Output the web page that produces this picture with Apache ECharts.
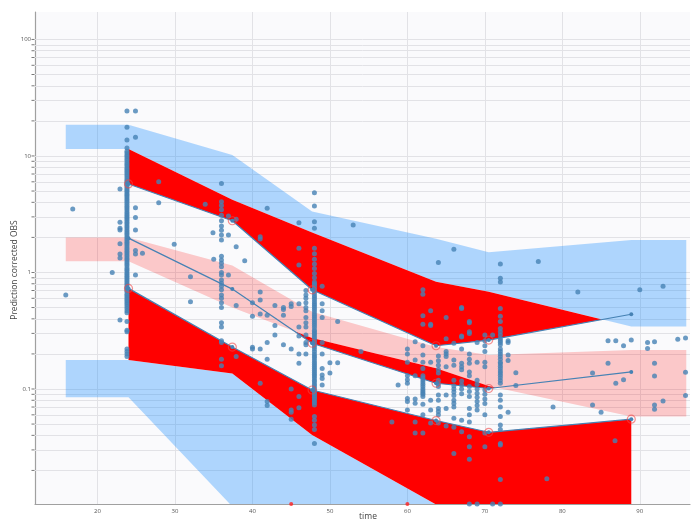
<!DOCTYPE html>
<html><head><meta charset="utf-8">
<script src="https://cdn.jsdelivr.net/npm/echarts@6/dist/echarts.min.js"></script>
<style>html,body{margin:0;padding:0;background:#fff}#main{width:693px;height:522px}</style>
</head><body><div id="main"></div>
<script>
// ---------- axis ranges & ticks ----------
const xRange = [11.93, 96.48];
const yRange = [0.0103, 172];
const xTickValues = [20, 30, 40, 50, 60, 70, 80, 90];
const yMajorTicks = [0.1, 1, 10, 100];
const yMinorTicks = [0.02,0.03,0.04,0.05,0.06,0.07,0.08,0.09,0.2,0.3,0.4,0.5,0.6,0.7,0.8,0.9,2,3,4,5,6,7,8,9,20,30,40,50,60,70,80,90];

// ---------- VPC summary (bins) ----------
const binTimes  = [24.0, 37.4, 47.7, 63.7, 70.5, 88.9];
const bandTimes = [15.9, 24.0, 37.4, 47.7, 63.7, 70.5, 88.9, 96.0];
const upperPIhi  = [18.5, 18.5, 10.2, 3.33, 1.95, 1.49, 1.90, 1.90];
const upperPIlo  = [11.5, 11.5, 4.2, 2.2, 0.834, 0.684, 0.343, 0.343];
const medianPIhi = [2.0, 2.0, 1.15, 0.46, 0.229, 0.196, 0.216, 0.216];
const medianPIlo = [1.25, 1.25, 0.5, 0.274, 0.151, 0.106, 0.058, 0.058];
const lowerPIhi  = [0.177, 0.177, 0.136, 0.0403, 0.0102, 0.007, 0.006, 0.006];
const lowerPIlo  = [0.085, 0.085, 0.0098, 0.003, 0.001, 0.001, 0.001, 0.001];
const empUpper  = [5.75, 2.78, 0.71, 0.235, 0.263, 0.438];
const empMedian = [1.97, 0.72, 0.247, 0.112, 0.101, 0.14];
const empLower  = [0.73, 0.229, 0.098, 0.0536, 0.0425, 0.0551];

// ---------- observations [time, value] ----------
const obsEarly = [[15.9,0.64],[16.8,3.5],[21.9,1.0],[22.9,5.2],[22.9,2.7],[22.9,2.4],[22.9,2.31],[22.9,1.76],[22.9,1.44],[22.9,1.33],[22.9,0.39],
 [23.8,24.3],[23.8,17.6],[23.8,13.7],[23.8,11.7],[23.8,11.0],[23.8,10.6],[23.8,10.2],[23.8,9.9],[23.8,9.5],[23.8,9.2],[23.8,8.8],[23.8,8.5],[23.8,8.2],[23.8,7.9],[23.8,7.65],[23.8,7.4],[23.8,7.15],[23.8,6.9],[23.8,6.65],[23.8,6.4],[23.8,6.2],[23.8,6.0],[23.8,5.8],[23.8,5.6],[23.8,5.4],[23.8,5.2],[23.8,5.05],[23.8,4.9],[23.8,4.75],[23.8,4.6],[23.8,4.45],[23.8,4.3],[23.8,4.15],[23.8,4.0],[23.8,3.85],[23.8,3.7],[23.8,3.57],[23.8,3.45],[23.8,3.32],[23.8,3.2],[23.8,3.1],[23.8,3.0],[23.8,2.9],[23.8,2.8],[23.8,2.7],[23.8,2.6],[23.8,2.5],[23.8,2.42],[23.8,2.33],[23.8,2.25],[23.8,2.17],[23.8,2.1],[23.8,2.02],[23.8,1.95],[23.8,1.88],[23.8,1.82],[23.8,1.76],[23.8,1.7],[23.8,1.64],[23.8,1.58],[23.8,1.52],[23.8,1.47],[23.8,1.42],[23.8,1.37],[23.8,1.32],[23.8,1.28],[23.8,1.23],[23.8,1.19],[23.8,1.15],[23.8,1.1],[23.8,1.06],[23.8,1.03],[23.8,0.99],[23.8,0.96],[23.8,0.93],[23.8,0.9],[23.8,0.87],[23.8,0.84],[23.8,0.81],[23.8,0.78],[23.8,0.75],[23.8,0.73],[23.8,0.7],[23.8,0.68],[23.8,0.65],[23.8,0.63],[23.8,0.61],[23.8,0.59],[23.8,0.57],[23.8,0.55],[23.8,0.53],[23.8,0.51],[23.8,0.49],[23.8,0.47],[23.8,0.45],[23.8,0.38],[23.8,0.32],[23.8,0.31],[23.8,0.22],[23.8,0.21],[23.8,0.2],[23.8,0.19],
 [24.9,24.3],[24.9,14.5],[24.9,3.6],[24.9,2.97],[24.9,2.31],[24.9,1.54],[24.9,1.44],[24.9,0.95],
 [25.8,1.46],[27.9,6.0],[27.9,3.97],[29.9,1.75]];
const obsMid = [[32.0,0.92],[32.0,0.56],[33.9,3.85],[34.9,2.19],[35.0,1.3],
 [36.0,5.8],[36.0,4.05],[36.0,3.75],[36.0,3.45],[36.0,3.1],[36.0,2.78],[36.0,2.5],[36.0,2.3],[36.0,2.1],[36.0,1.9],[36.0,1.38],[36.0,1.28],[36.0,1.2],[36.0,1.12],[36.0,1.0],[36.0,0.95],[36.0,0.86],[36.0,0.81],[36.0,0.76],[36.0,0.71],[36.0,0.64],[36.0,0.6],[36.0,0.55],[36.0,0.5],[36.0,0.37],[36.0,0.34],[36.0,0.26],[36.0,0.25],[36.0,0.18],[36.0,0.158],
 [36.9,3.05],[36.9,2.1],[36.9,0.95],[37.9,2.86],[37.9,1.66],[37.9,0.52],[37.9,0.19],[39.0,1.26],
 [40.0,0.55],[40.0,0.42],[40.0,0.228],[40.0,0.22],
 [41.0,2.03],[41.0,1.94],[41.0,0.68],[41.0,0.58],[41.0,0.44],[41.0,0.22],[41.0,0.112],
 [41.9,3.55],[41.9,0.43],[41.9,0.25],[41.9,0.18],[41.9,0.078],[41.9,0.072],
 [42.9,0.52],[42.9,0.35],[42.9,0.29],[44.0,0.5],[44.0,0.48],[44.0,0.43],[44.0,0.24],
 [45.0,0.54],[45.0,0.51],[45.0,0.22],[45.0,0.1],[45.0,0.066],[45.0,0.063],[45.0,0.055],
 [46.0,2.67],[46.0,1.61],[46.0,1.16],[46.0,0.54],[46.0,0.34],[46.0,0.285],[46.0,0.2],[46.0,0.166],[46.0,0.086],[46.0,0.069]];
const obs48 = [[46.9,0.7],[46.9,0.64],[46.9,0.6],[46.9,0.55],[46.9,0.5],[46.9,0.47],[46.9,0.41],[46.9,0.37],[46.9,0.34],[46.9,0.29],[46.9,0.25],[46.9,0.24],[46.9,0.2],
 [48,4.84],[48,3.72],[48,2.73],[48,2.4],[48,1.61],[48,1.45],[48,1.3],[48,1.18],[48,1.08],[48,0.98],[48,0.9],[48,0.83],[48,0.8],[48,0.78],[48,0.75],[48,0.72],[48,0.69],[48,0.66],[48,0.63],[48,0.61],[48,0.585],[48,0.56],[48,0.54],[48,0.52],[48,0.5],[48,0.48],[48,0.46],[48,0.44],[48,0.425],[48,0.41],[48,0.395],[48,0.38],[48,0.365],[48,0.35],[48,0.335],[48,0.32],[48,0.31],[48,0.3],[48,0.29],[48,0.28],[48,0.27],[48,0.26],[48,0.25],[48,0.24],[48,0.23],[48,0.22],[48,0.21],[48,0.2],[48,0.192],[48,0.185],[48,0.177],[48,0.17],[48,0.163],[48,0.157],[48,0.151],[48,0.145],[48,0.139],[48,0.134],[48,0.129],[48,0.124],[48,0.119],[48,0.115],[48,0.11],[48,0.106],[48,0.102],[48,0.098],[48,0.094],[48,0.091],[48,0.088],[48,0.085],[48,0.082],[48,0.079],[48,0.076],[48,0.073],[48,0.058],[48,0.054],[48,0.049],[48,0.045],[48,0.034],
 [49,0.76],[49,0.54],[49,0.47],[49,0.41],[49,0.25],[49,0.2],[49,0.15],[49,0.132],[49,0.123],[49,0.108],
 [50,0.168],[50,0.137],[51,0.38],[51,0.168],[53,2.56],[54,0.21],[58,0.052],[58.8,0.108]];
const obsLate = [[60,0.22],[60,0.2],[60,0.17],[60,0.13],[60,0.12],[60,0.112],[60,0.083],[60,0.078],[60,0.066],
 [61,0.254],[61,0.177],[61,0.13],[61,0.082],[61,0.0755],[61,0.052],[61,0.042],
 [62,0.71],[62,0.65],[62,0.426],[62,0.36],[62,0.235],[62,0.196],[62,0.17],[62,0.15],[62,0.13],[62,0.125],[62,0.12],[62,0.115],[62,0.11],[62,0.105],[62,0.1],[62,0.096],[62,0.093],[62,0.09],[62,0.086],[62,0.074],[62,0.06],[62,0.042],
 [63,0.47],[63,0.36],[63,0.35],[63,0.17],[63,0.08],[63,0.066],[63,0.051],
 [64,1.22],[64,0.192],[64,0.175],[64,0.16],[64,0.147],[64,0.137],[64,0.119],[64,0.111],[64,0.105],[64,0.089],[64,0.08],[64,0.068],[64,0.064],[64,0.06],[64,0.051],
 [65,0.41],[65,0.27],[65,0.21],[65,0.2],[65,0.19],[65,0.155],[65,0.089],[65,0.068],[65,0.048],
 [66,1.58],[66,0.247],[66,0.177],[66,0.16],[66,0.119],[66,0.106],[66,0.1],[66,0.094],[66,0.088],[66,0.08],[66,0.075],[66,0.07],[66,0.056],[66,0.047],[66,0.028],
 [67,0.5],[67,0.49],[67,0.285],[67,0.28],[67,0.22],[67,0.166],[67,0.155],[67,0.146],[67,0.117],[67,0.108],[67,0.1],[67,0.091],[67,0.054],[67,0.043],
 [68,0.38],[68,0.37],[68,0.31],[68,0.3],[68,0.2],[68,0.18],[68,0.166],[68,0.14],[68,0.13],[68,0.105],[68,0.095],[68,0.086],[68,0.068],[68,0.06],[68,0.052],[68,0.039],[68,0.032],[68,0.025],
 [69,0.25],[69,0.17],[69,0.119],[69,0.11],[69,0.1],[69,0.092],[69,0.085],[69,0.078],[69,0.072],[69,0.066],
 [70,0.29],[70,0.26],[70,0.235],[70,0.21],[70,0.17],[70,0.155],[70,0.098],[70,0.09],[70,0.082],[70,0.075],[70,0.06],[70,0.042],[70,0.032],
 [71,0.29],
 [72,1.18],[72,0.89],[72,0.83],[72,0.49],[72,0.42],[72,0.38],[72,0.33],[72,0.31],[72,0.29],[72,0.27],[72,0.26],[72,0.25],[72,0.24],[72,0.22],[72,0.21],[72,0.2],[72,0.19],[72,0.18],[72,0.17],[72,0.165],[72,0.157],[72,0.15],[72,0.143],[72,0.137],[72,0.131],[72,0.125],[72,0.118],[72,0.112],[72,0.089],[72,0.08],[72,0.07],[72,0.058],[72,0.049],[72,0.045],[72,0.034],[72,0.033],[72,0.0167],
 [73,0.26],[73,0.25],[73,0.196],[73,0.176],[73,0.063],[74,0.138],[74,0.107]];
const obsEnd = [[76.9,1.24],[78,0.017],[78.8,0.07],[82,0.68],[83.9,0.137],[83.9,0.073],[85,0.063],[85.9,0.26],[85.9,0.166],[86.8,0.036],[86.9,0.26],[86.9,0.112],[87.9,0.235],[87.9,0.12],[88.9,0.263],
 [90,0.71],[91,0.25],[91,0.223],[91.9,0.254],[91.9,0.166],[91.9,0.129],[91.9,0.073],[91.9,0.067],[93,0.76],[93,0.079],[94.9,0.267],[95.9,0.274],[95.9,0.139],[95.9,0.088]];
const obsAtLimitBlue = [[68,0.0103],[69,0.0103],[71,0.0103],[72,0.0103]];
const obsAtLimitRed = [[45,0.0103],[60,0.0103]];

// ---------- helpers ----------
const lg = Math.log10;
function bandPolygon(times, hi, lo) {
  const up = times.map((t, i) => [t, hi[i]]);
  const dn = times.map((t, i) => [t, lo[i]]).reverse();
  return up.concat(dn);
}
// region where `top` lies above `bottom` (in log space), straight segments on screen
function exceedRegions(times, top, bottom) {
  const regions = []; let cur = null;
  const d = times.map((t, i) => lg(top[i]) - lg(bottom[i]));
  for (let i = 0; i < times.length; i++) {
    if (i > 0 && (d[i - 1] > 0) !== (d[i] > 0)) {
      const f = d[i - 1] / (d[i - 1] - d[i]);
      const t = times[i - 1] + f * (times[i] - times[i - 1]);
      const v = Math.pow(10, lg(top[i - 1]) + f * (lg(top[i]) - lg(top[i - 1])));
      if (cur) { cur.up.push([t, v]); regions.push(cur); cur = null; }
      else { cur = { up: [[t, v]], dn: [] }; }
    }
    if (d[i] > 0) {
      if (!cur) cur = { up: [], dn: [] };
      cur.up.push([times[i], top[i]]);
      cur.dn.push([times[i], bottom[i]]);
    }
  }
  if (cur) regions.push(cur);
  return regions.map(r => r.up.concat(r.dn.slice().reverse()));
}
const bin = a => a.slice(1, 7);
const redPolys = [].concat(
  exceedRegions(binTimes, bin(upperPIlo), empUpper),
  exceedRegions(binTimes, empUpper, bin(upperPIhi)),
  exceedRegions(binTimes, bin(medianPIlo), empMedian),
  exceedRegions(binTimes, empMedian, bin(medianPIhi)),
  exceedRegions(binTimes, bin(lowerPIlo), empLower),
  exceedRegions(binTimes, empLower, bin(lowerPIhi))
);
function outliers(emp, hi, lo) {
  const h = bin(hi), l = bin(lo);
  return binTimes.map((t, i) => [t, emp[i]]).filter((p, i) => p[1] > h[i] || p[1] < l[i]);
}
const outlierPts = [].concat(outliers(empUpper, upperPIhi, upperPIlo), outliers(empMedian, medianPIhi, medianPIlo), outliers(empLower, lowerPIhi, lowerPIlo));

function polygonSeries(polys, fill, z) {
  return {
    type: 'custom', z: z, silent: true, clip: true,
    data: polys.map((p, i) => [xTickValues[0], 1, i]),
    encode: { x: 0, y: 1 },
    renderItem: function (params, api) {
      const pts = polys[params.dataIndex].map(p => api.coord(p));
      return { type: 'polygon', shape: { points: pts }, style: { fill: fill, stroke: null } };
    }
  };
}

const steel = '#4682b4';
const font = '"Open Sans", "Liberation Sans", sans-serif';
const chart = echarts.init(document.getElementById('main'));
const allYTicks = yMajorTicks.concat(yMinorTicks);

chart.setOption({
  animation: false,
  grid: { left: 35, top: 12, right: 1, bottom: 18, show: true, backgroundColor: '#fafafc', borderWidth: 0 },
  xAxis: {
    type: 'value', min: xRange[0], max: xRange[1], splitNumber: 8,
    axisLine: { show: true, onZero: false, lineStyle: { color: '#a0a0a0', width: 1.2 } },
    axisTick: { show: false },
    splitLine: { show: false },
    axisLabel: { fontSize: 6, color: '#555', margin: 4, fontFamily: font,
      formatter: v => (xTickValues.indexOf(Math.round(v)) >= 0 && Math.abs(v - Math.round(v)) < 1e-6) ? String(Math.round(v)) : '' }
  },
  yAxis: {
    type: 'log', logBase: 10, min: yRange[0], max: yRange[1],
    axisLine: { show: true, lineStyle: { color: '#a0a0a0', width: 1.2 } },
    axisTick: { show: false },
    splitLine: { show: false },
    axisLabel: { fontSize: 6, color: '#555', margin: 4, fontFamily: font,
      formatter: v => { const e = Math.round(lg(v)); const p = +Math.pow(10, e).toFixed(6); return (Math.abs(lg(v) - e) < 1e-6 && yMajorTicks.indexOf(p) >= 0) ? String(p) : ''; } }
  },
  graphic: [
    { type: 'text', x: 15, y: 270, rotation: Math.PI / 2, style: { text: 'Prediction corrected OBS', fontSize: 8.5, fill: '#444', fontFamily: font, align: 'center', verticalAlign: 'middle' } },
    { type: 'text', x: 368, y: 517, style: { text: 'time', fontSize: 8.5, fill: '#444', fontFamily: font, align: 'center', verticalAlign: 'middle' } }
  ],
  series: [
    { // gridlines + y ticks
      type: 'scatter', z: 1, silent: true, clip: false,
      symbol: 'rect', symbolSize: [3, 1], symbolOffset: [-2, 0],
      itemStyle: { color: '#555' },
      data: allYTicks.map(v => [xRange[0], v]),
      markLine: {
        z: 1, silent: true, symbol: 'none', label: { show: false }, animation: false,
        lineStyle: { color: '#e2e2e6', width: 1, type: 'solid' },
        emphasis: { disabled: true },
        data: allYTicks.map(v => ({ yAxis: v })).concat(xTickValues.map(v => ({ xAxis: v })))
      }
    },
    polygonSeries([bandPolygon(bandTimes, upperPIhi, upperPIlo), bandPolygon(bandTimes, lowerPIhi, lowerPIlo)], 'rgba(0,128,255,0.3)', 2),
    polygonSeries([bandPolygon(bandTimes, medianPIhi, medianPIlo)], 'rgba(255,0,0,0.2)', 2),
    polygonSeries(redPolys, '#ff0000', 3),
    { type: 'scatter', z: 4, clip: false, symbol: 'circle', symbolSize: 5, itemStyle: { color: steel },
      data: [].concat(obsEarly, obsMid, obs48, obsLate, obsEnd, obsAtLimitBlue) },
    { type: 'scatter', z: 4, clip: false, symbol: 'circle', symbolSize: 4, itemStyle: { color: '#ff2020' }, data: obsAtLimitRed },
    ...[empUpper, empMedian, empLower].map(arr => ({
      type: 'line', z: 5, symbol: 'circle', symbolSize: 4, showSymbol: true,
      lineStyle: { color: steel, width: 1.2 }, itemStyle: { color: steel },
      data: binTimes.map((t, i) => [t, arr[i]])
    })),
    { type: 'scatter', z: 6, symbol: 'circle', symbolSize: 8,
      itemStyle: { color: 'rgba(0,0,0,0)', borderColor: 'rgba(240,70,70,0.75)', borderWidth: 1.2 },
      data: outlierPts }
  ]
});
</script></body></html>
